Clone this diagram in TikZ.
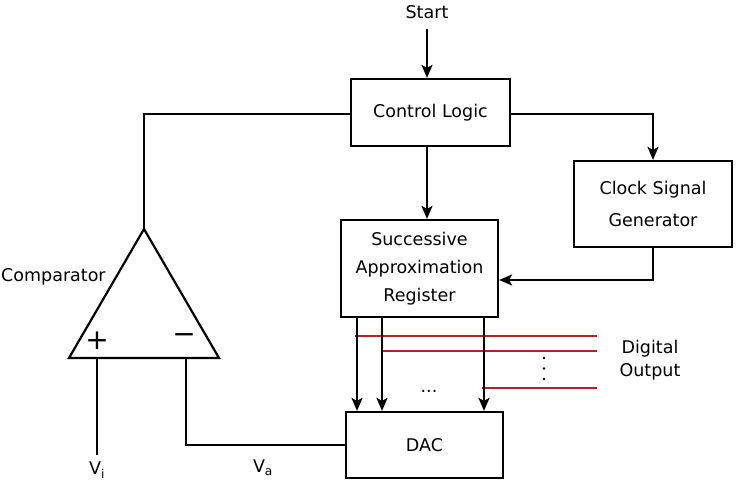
\documentclass[tikz,border=0pt]{standalone}
\usepackage{fontspec}
\setmainfont{DejaVu Sans}
\usetikzlibrary{arrows.meta,calc}
\definecolor{busred}{RGB}{178,34,34}
\tikzset{
	block/.style = {draw, line width=2.2pt, rectangle, align=center, inner sep=0pt},
	sig/.style = {line width=2.2pt},
	arr/.style = {sig, -{Stealth[length=13pt,width=11pt,inset=3pt]}},
	bus/.style = {line width=1.6pt, busred},
	lbl/.style = {inner sep=0pt, font=\fontsize{17.5}{20}\selectfont}
}

\begin{document}
\begin{tikzpicture}[x=1pt, y=-1pt, font=\fontsize{17.5}{20}\selectfont]
		\useasboundingbox (0,0) rectangle (737,497);
		%
		\node (start)[lbl] at (427,12) {Start};
		\node (ctrl)[block, minimum width=159pt, minimum height=67pt] at (430.5,112.5) {Control Logic};
		\node (clk)[block, minimum width=158pt, minimum height=86pt, font=\fontsize{17.5}{32}\selectfont] at (653,204) {Clock Signal\\Generator};
		\node (sar)[block, minimum width=157pt, minimum height=97pt, font=\fontsize{17.5}{28}\selectfont] at (419.5,268.5) {Successive\\Approximation\\Register};
		\node (dac)[block, minimum width=157pt, minimum height=66pt] at (424.5,445) {DAC};
		%
		\draw[arr] ([yshift=-10pt]start.south) -- (start.south |- ctrl.north);
		\draw[arr] (start.south |- ctrl.south) -- (start.south |- sar.north);
		\draw[arr] ([shift={(0,1.5)}]ctrl.east) -| (clk.north);
		\draw[arr] (clk.south) |- ([shift={(0,11.5)}]sar.east);
		%
		% comparator
		\coordinate (apex) at (144,229);
		\coordinate (cl) at (69,358);
		\coordinate (cr) at (219,358);
		\coordinate (pin) at (97,358);
		\coordinate (nin) at (186,358);
		\coordinate (vi) at (97,455);
		\draw[sig, line join=miter] (apex) -- (cl) -- (cr) -- cycle;
		\node (plus)[lbl, font=\fontsize{28}{28}\selectfont] at (97,341) {+};
		\node (minus)[lbl, font=\fontsize{28}{28}\selectfont] at (184,339) {−};
		\node (cmp)[lbl, anchor=west] at (1,277) {Comparator};
		\draw[sig] (apex) |- ([shift={(0,1.5)}]ctrl.west);
		\draw[sig] (nin) |- (dac.west);
		\draw[sig] (pin) -- (vi);
		\node (vilbl)[lbl] at (97,470) {V\textsubscript{i}};
		\node (valbl)[lbl] at (263,468) {V\textsubscript{a}};
		%
		% digital output bus
		\coordinate (bend) at (597,0);
		\foreach \x/\y [count=\i] in {355/336, 381/351, 482/388}{
			\coordinate (r\i) at (\x,\y);
			\draw[bus] (r\i) -- (r\i -| bend);
		}
		\foreach \x [count=\i] in {357,382,484}{
			\coordinate (b\i) at (\x,0);
			\draw[arr] (sar.south -| b\i) -- (dac.north -| b\i);
		}
		\node (hdots)[lbl] at (429,391) {...};
		\foreach \y in {358,368.5,379}
			\fill (544,\y) circle (1.4pt);
		\node (dig)[lbl] at (650,349) {Digital};
		\node (out)[lbl] at (650,372) {Output};
	\end{tikzpicture}
\end{document}
